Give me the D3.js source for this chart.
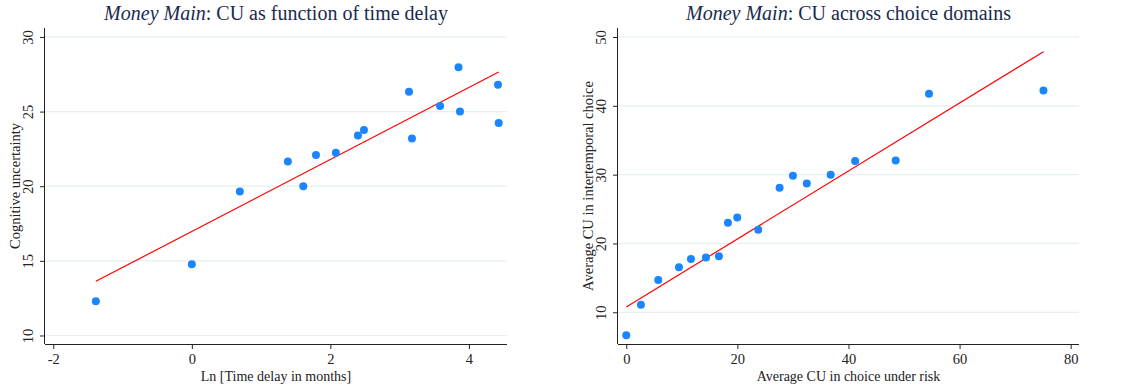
<!DOCTYPE html>
<html>
<head>
<meta charset="utf-8">
<script src="https://cdn.jsdelivr.net/npm/d3@7"></script>
<style>
  body { margin: 0; background: #fff; }
  text { font-family: "Liberation Serif", "DejaVu Serif", serif; }
</style>
</head>
<body>
<script>
// Left panel: ln(time delay) vs cognitive uncertainty
const delayX = [-1.386, 0, 0.693, 1.386, 1.609, 1.792, 2.079, 2.398, 2.485, 3.135, 3.178, 3.584, 3.85, 3.871, 4.42, 4.43];
const delayY = [12.3, 14.77, 19.64, 21.66, 20.0, 22.1, 22.24, 23.4, 23.76, 26.33, 23.2, 25.37, 27.97, 25.0, 26.8, 24.23];
const delayFit = { a: 16.97, b: 2.41 };
const delayXTicks = [-2, 0, 2, 4];
const delayYTicks = [10, 15, 20, 25, 30];

// Right panel: CU under risk vs CU in intertemporal choice
const riskX = [0, 2.64, 5.76, 9.48, 11.64, 14.34, 16.68, 18.3, 19.98, 23.76, 27.6, 30.0, 32.5, 36.8, 41.2, 48.5, 54.5, 75.1];
const riskY = [6.65, 11.1, 14.7, 16.55, 17.75, 17.95, 18.14, 23.0, 23.76, 22.0, 28.1, 29.83, 28.7, 30.0, 32.0, 32.05, 41.75, 42.23];
const riskFit = { a: 10.77, b: 0.494 };
const riskXTicks = [0, 20, 40, 60, 80];
const riskYTicks = [10, 20, 30, 40, 50];

const W = 1121, H = 387;
const svg = d3.select("body").append("svg")
    .attr("width", W)
    .attr("height", H);

function panel(opts) {
    const g = svg.append("g");
    const x = d3.scaleLinear().domain(opts.xDomain).range([opts.left, opts.right]);
    const y = d3.scaleLinear().domain(opts.yDomain).range([opts.bottom, opts.top]);

    // gridlines
    g.selectAll(".grid")
        .data(opts.yTicks)
        .enter().append("line")
        .attr("x1", opts.left)
        .attr("x2", opts.right)
        .attr("y1", d => y(d))
        .attr("y2", d => y(d))
        .attr("stroke", "#e6eff1")
        .attr("stroke-width", 1.2);

    // axes
    const xAxis = g.append("g")
        .attr("transform", "translate(0," + opts.bottom + ")")
        .call(d3.axisBottom(x).tickValues(opts.xTicks).tickSize(5).tickPadding(5).tickFormat(d => String(d)));
    xAxis.select(".domain").attr("d", "M" + opts.left + ",0.5H" + opts.right).attr("stroke", "#222");
    xAxis.selectAll(".tick line").attr("stroke", "#222");
    xAxis.selectAll(".tick text")
        .attr("fill", "#222")
        .style("font-size", "14.5px");

    const yAxis = g.append("g")
        .attr("transform", "translate(" + opts.left + ",0)")
        .call(d3.axisLeft(y).tickValues(opts.yTicks).tickSize(5).tickFormat(d => String(d)));
    yAxis.select(".domain").attr("d", "M-0.5," + opts.top + "V" + opts.bottom).attr("stroke", "#222");
    yAxis.selectAll(".tick line").attr("stroke", "#222");
    yAxis.selectAll(".tick text")
        .attr("fill", "#222")
        .attr("x", null)
        .attr("dy", null)
        .attr("transform", "translate(-12,0) rotate(-90)")
        .attr("text-anchor", "middle")
        .style("font-size", "14.5px");

    // fit line over the range of the data
    const f = opts.fit;
    const xmin = d3.min(opts.xs), xmax = d3.max(opts.xs);
    g.append("line")
        .attr("x1", x(xmin))
        .attr("y1", y(f.a + f.b * xmin))
        .attr("x2", x(xmax))
        .attr("y2", y(f.a + f.b * xmax))
        .attr("stroke", "#f00")
        .attr("stroke-width", 1.2);

    // points
    g.selectAll(".pt")
        .data(opts.xs.map((d, i) => [d, opts.ys[i]]))
        .enter().append("circle")
        .attr("cx", d => x(d[0]))
        .attr("cy", d => y(d[1]))
        .attr("r", 4)
        .attr("fill", "#1a85ff");

    // title
    const t = g.append("text")
        .attr("x", (opts.left + opts.right) / 2)
        .attr("y", 20)
        .attr("text-anchor", "middle")
        .attr("fill", "#1a2b4c")
        .style("font-size", "20px");
    t.append("tspan").style("font-style", "italic").text("Money Main");
    t.append("tspan").text(opts.title);

    // axis labels
    g.append("text")
        .attr("x", (opts.left + opts.right) / 2)
        .attr("y", 381)
        .attr("text-anchor", "middle")
        .attr("fill", "#222")
        .style("font-size", "14px")
        .text(opts.xLabel);

    g.append("text")
        .attr("transform", "rotate(-90)")
        .attr("x", -(opts.top + opts.bottom) / 2)
        .attr("y", opts.left - 25)
        .attr("text-anchor", "middle")
        .attr("fill", "#222")
        .style("font-size", "14.5px")
        .text(opts.yLabel);
}

panel({
    xs: delayX, ys: delayY, fit: delayFit,
    xTicks: delayXTicks, yTicks: delayYTicks,
    xDomain: [-2.12, 4.55], yDomain: [9.43, 30.6],
    left: 45, right: 507, top: 28, bottom: 344,
    title: ": CU as function of time delay",
    xLabel: "Ln [Time delay in months]",
    yLabel: "Cognitive uncertainty"
});

panel({
    xs: riskX, ys: riskY, fit: riskFit,
    xTicks: riskXTicks, yTicks: riskYTicks,
    xDomain: [-1.49, 81.5], yDomain: [5.39, 51.31],
    left: 618, right: 1079, top: 28, bottom: 344,
    title: ": CU across choice domains",
    xLabel: "Average CU in choice under risk",
    yLabel: "Average CU in intertemporal choice"
});
</script>
</body>
</html>
